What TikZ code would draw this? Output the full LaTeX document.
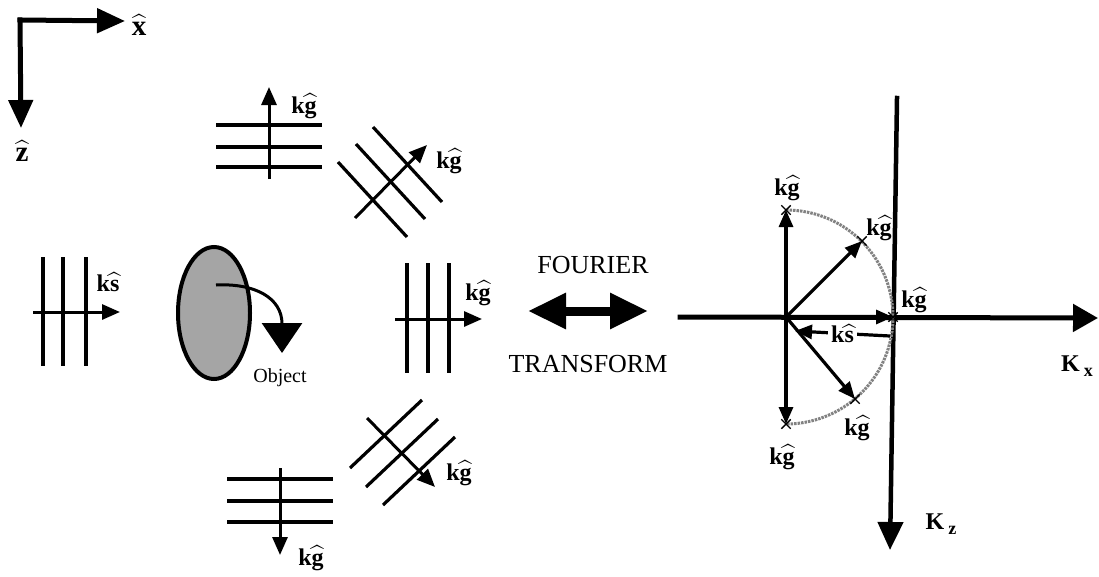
\documentclass[tikz,border=0pt]{standalone}
\usepackage{fontspec}
\setmainfont{Liberation Serif}
\usepackage{amsmath}
\usetikzlibrary{arrows.meta, shapes.misc}
\definecolor{arcgray}{RGB}{130,130,130}
\definecolor{objgray}{RGB}{165,165,165}
\newcommand{\hatx}[1]{$\widehat{\text{#1}}$}
\newcommand{\kvec}[1]{k\hatx{#1}}

\begin{document}
\begin{tikzpicture}[x=1pt, y=-1pt,
  wave/.style={line width=3.2pt},
  axis/.style={line width=5pt, line cap=rect, -{Triangle[length=28pt, width=24pt]}},
  kdir/.style={line width=3pt, -{Triangle[length=18pt, width=15pt]}},
  vec/.style={line width=3.2pt, -{Triangle[length=17pt, width=14pt]}},
  lbl/.style={font=\fontsize{24}{26}\selectfont\bfseries, inner sep=0pt},
  txt/.style={font=\fontsize{26}{28}\selectfont, inner sep=0pt},
  xmark/.style={cross out, draw, minimum size=8pt, inner sep=0pt, line width=1.4pt}]
  \useasboundingbox (0,0) rectangle (1099,576);

  % unit vectors
  \coordinate (c0) at (20,20);
  \coordinate (xtip) at (125,21);
  \coordinate (ztip) at (21,128);
  \draw[axis] (c0) -- (xtip);
  \draw[axis] (c0) -- (ztip);
  \node[lbl, font=\fontsize{29}{30}\selectfont\bfseries] (xhat) at (139,25) {\hatx{x}};
  \node[lbl, font=\fontsize{29}{30}\selectfont\bfseries] (zhat) at (22,151) {\hatx{z}};

  % incident wave
  \foreach \x in {43,63,86} \draw[wave] (\x,257) -- (\x,366);
  \coordinate (sa) at (33,312);
  \coordinate (sb) at (120,312);
  \draw[kdir] (sa) -- (sb);
  \node[lbl] (ks) at (108,282) {\kvec{s}};

  % object
  \draw[line width=4pt, fill=objgray] (214,313) ellipse [x radius=36pt, y radius=66pt];
  \coordinate (oa) at (216,285);
  \coordinate (ob) at (282,353);
  \draw[line width=3pt, -{Triangle[length=30pt, width=40pt]}]
      (oa) .. controls (255,283) and (282,298) .. (ob);
  \node[font=\fontsize{20}{22}\selectfont, inner sep=0pt] (obj) at (280,378) {Object};

  % scattered waves
  \foreach \y in {125,147,167} \draw[wave] (216,\y) -- (322,\y);
  \coordinate (ta) at (269,179);
  \coordinate (tb) at (269,87);
  \draw[kdir] (ta) -- (tb);
  \node[lbl] (kgt) at (304,106) {\kvec{g}};

  \foreach \a/\b in {338/162, 356/144, 373/127} \draw[wave] (\a,\b) -- ++(69,75);
  \coordinate (da) at (355,218);
  \coordinate (db) at (427,145);
  \draw[kdir] (da) -- (db);
  \node[lbl] (kgd) at (449,161) {\kvec{g}};

  \foreach \x in {407,428,449} \draw[wave] (\x,263) -- (\x,373);
  \coordinate (ma) at (395,319);
  \coordinate (mb) at (482,319);
  \draw[kdir] (ma) -- (mb);
  \node[lbl] (kgm) at (478,293) {\kvec{g}};

  \foreach \y in {479,501,522} \draw[wave] (227,\y) -- (333,\y);
  \coordinate (ba) at (280,468);
  \coordinate (bb) at (280,555);
  \draw[kdir] (ba) -- (bb);
  \node[lbl] (kgb) at (311,558) {\kvec{g}};

  \foreach \a/\b in {350/468, 366/487, 383/505} \draw[wave] (\a,\b) -- ++(72,-68);
  \coordinate (la) at (367,418);
  \coordinate (lb) at (435,487);
  \draw[kdir] (la) -- (lb);
  \node[lbl] (kgl) at (459,473) {\kvec{g}};

  % transform
  \node[txt] (four) at (593,265) {FOURIER};
  \node[txt] (trans) at (588,364) {TRANSFORM};
  \coordinate (fa) at (528,311);
  \coordinate (fb) at (648,311);
  \draw[line width=9pt, {Triangle[length=38pt, width=34pt]}-{Triangle[length=38pt, width=34pt]}] (fa) -- (fb);

  % k-space
  \coordinate (O) at (786,317);
  \coordinate (kxa) at (680,317);
  \coordinate (kxb) at (1098,318);
  \coordinate (kza) at (897,98);
  \coordinate (kzb) at (890,550);
  \draw[axis, -{Triangle[length=25pt, width=27pt]}] (kxa) -- (kxb);
  \draw[axis, line width=4.5pt, -{Triangle[length=28pt, width=25pt]}] (kza) -- (kzb);
  \node[lbl] (kx) at (1077,366) {K\,\raisebox{-5pt}{\fontsize{18}{18}\selectfont x}};
  \node[lbl] (kz) at (941,524) {K\,\raisebox{-5pt}{\fontsize{18}{18}\selectfont z}};

  \draw[arcgray, line width=3pt, dash pattern=on 2.5pt off 1pt]
      plot[domain=-90:90, samples=80] ({786+107*cos(\x)}, {317+107*sin(\x)});
  \coordinate (gt) at (786,210);
  \coordinate (gur) at (862,241);
  \coordinate (gr) at (893,317);
  \coordinate (glr) at (855,399);
  \coordinate (gb) at (786,424);
  \foreach \p in {gt,gur,gr,glr,gb} {
    \draw[vec] (O) -- (\p);
    \node[xmark] at (\p) {};
  }
  \coordinate (sr) at (890,336);
  \coordinate (sl) at (795,331);
  \draw[vec] (sr) -- node[lbl, fill=white, inner xsep=3pt] (ksk) {\kvec{s}} (sl);

  \node[lbl] (kg1) at (787,188) {\kvec{g}};
  \node[lbl] (kg2) at (879,228) {\kvec{g}};
  \node[lbl] (kg3) at (914,300) {\kvec{g}};
  \node[lbl] (kg4) at (857,428) {\kvec{g}};
  \node[lbl] (kg5) at (782,457) {\kvec{g}};
\end{tikzpicture}
\end{document}
